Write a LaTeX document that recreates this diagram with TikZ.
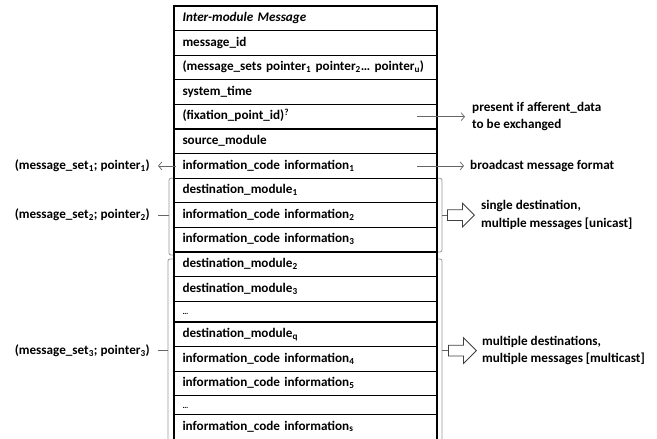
\documentclass[tikz,border=0pt]{standalone}
\usepackage{fontspec}
\setmainfont{Carlito}
\usetikzlibrary{positioning,arrows.meta,shapes.arrows,calc}

\tikzset{
  row/.style={draw, line width=1.1bp, outer sep=0pt, inner xsep=8.5bp, inner ysep=0pt,
    text width=246bp, align=left, minimum height=24.6bp, text height=9.5bp, text depth=3bp,
    font=\bfseries\fontsize{13.2}{15}\selectfont},
  dotrow/.style={row, minimum height=20.8bp, font=\bfseries\fontsize{8}{9}\selectfont},
  lbl/.style={inner sep=2bp, font=\bfseries\fontsize{13.2}{15}\selectfont},
  note/.style={lbl, align=left, font=\bfseries\fontsize{13.2}{17.5}\selectfont},
  arr/.style={draw=black!60, line width=0.7bp, -{Straight Barb[length=3.5bp,width=8bp]}},
  tick/.style={draw=black!60, line width=0.7bp},
  brk/.style={draw=black!40, line width=0.8bp, rounded corners=2bp},
  blk/.style={single arrow, draw=black!75, line width=0.8bp, fill=white, inner sep=5bp,
    minimum height=27bp, single arrow head extend=6.5bp}
}

\begin{document}
\begin{tikzpicture}[x=1bp, y=-1bp]
  \useasboundingbox (0,0) rectangle (657,439);

  % message layout
  \node[row, anchor=north west] (r1) at (174,6) {\textit{Inter-module Message}};
  \node[row, below=0pt of r1] (r2) {message\_id};
  \node[row, below=0pt of r2] (r3) {(message\_sets pointer\textsubscript{1} pointer\textsubscript{2}\dots\ pointer\textsubscript{u})};
  \node[row, below=0pt of r3] (r4) {system\_time};
  \node[row, below=0pt of r4] (r5) {(fixation\_point\_id)\textsuperscript{?}};
  \node[row, below=0pt of r5] (r6) {source\_module};
  \node[row, below=0pt of r6] (r7) {information\_code information\textsubscript{1}};
  \node[row, below=0pt of r7] (r8) {destination\_module\textsubscript{1}};
  \node[row, below=0pt of r8] (r9) {information\_code information\textsubscript{2}};
  \node[row, below=0pt of r9] (r10) {information\_code information\textsubscript{3}};
  \node[row, below=0pt of r10] (r11) {destination\_module\textsubscript{2}};
  \node[row, below=0pt of r11] (r12) {destination\_module\textsubscript{3}};
  \node[dotrow, below=0pt of r12] (r13) {\dots};
  \node[row, below=0pt of r13] (r14) {destination\_module\textsubscript{q}};
  \node[row, below=0pt of r14] (r15) {information\_code information\textsubscript{4}};
  \node[row, below=0pt of r15] (r16) {information\_code information\textsubscript{5}};
  \node[dotrow, below=0pt of r16, minimum height=18.8bp] (r17) {\dots};
  \node[row, below=0pt of r17] (r18) {information\_code information\textsubscript{s}};

  % optional field and broadcast
  \node[note, right=33bp of r5.east] (present) {present if afferent\_data\\to be exchanged};
  \draw[arr, shorten >=5bp] ([xshift=-20bp]r5.east) -- (present.west);
  \node[lbl, right=31bp of r7.east] (bcast) {broadcast message format};
  \draw[arr, shorten >=4bp] ([xshift=-20bp]r7.east) -- (bcast.west);
  \node[lbl, left=22bp of r7.west] (set1) {(message\_set\textsubscript{1}; pointer\textsubscript{1})};
  \draw[arr, shorten >=6bp] ([xshift=2bp]r7.west) -- (set1.east);

  % unicast group
  \draw[brk] ([xshift=-1bp]r8.north west) -| ([xshift=-5bp,yshift=-3bp]r10.south west) -- ([xshift=-1bp,yshift=-3bp]r10.south west);
  \coordinate (lb1) at ($(r8.north west)!0.5!(r10.south west)+(-5,0)$);
  \node[lbl, left=17bp of lb1] (set2) {(message\_set\textsubscript{2}; pointer\textsubscript{2})};
  \draw[tick, shorten >=6bp] (lb1) -- (set2.east);
  \draw[brk] ([xshift=1bp]r8.north east) -| ([xshift=5bp]r10.south east) -- ([xshift=1bp]r10.south east);
  \coordinate (rb1) at ($(r8.north east)!0.5!(r10.south east)+(5,0)$);
  \node[blk, anchor=tail] (uni) at ([xshift=5bp]rb1) {};
  \draw[tick] (rb1) -- (uni.tail);
  \node[note, right=4bp of uni.tip] (unitxt) {single destination,\\multiple messages [unicast]};

  % multicast group
  \draw[brk] ([xshift=-1bp,yshift=-7bp]r11.north west) -| ([xshift=-6bp,yshift=-3bp]r18.south west);
  \coordinate (lb2) at ($([yshift=-7bp]r11.north west)!0.5!([yshift=-3bp]r18.south west)+(-6,0)$);
  \node[lbl, left=16bp of lb2] (set3) {(message\_set\textsubscript{3}; pointer\textsubscript{3})};
  \draw[tick, shorten >=6bp] (lb2) -- (set3.east);
  \draw[brk] ([xshift=1bp,yshift=-7bp]r11.north east) -| ([xshift=5bp,yshift=-3bp]r18.south east);
  \coordinate (rb2) at ($([yshift=-7bp]r11.north east)!0.5!([yshift=-3bp]r18.south east)+(5,0)$);
  \node[blk, anchor=tail, minimum height=28bp, single arrow head extend=7.5bp] (multi) at ([xshift=6bp]rb2) {};
  \draw[tick] (rb2) -- (multi.tail);
  \node[note, right=3bp of multi.tip] (multitxt) {multiple destinations,\\multiple messages [multicast]};
\end{tikzpicture}
\end{document}
